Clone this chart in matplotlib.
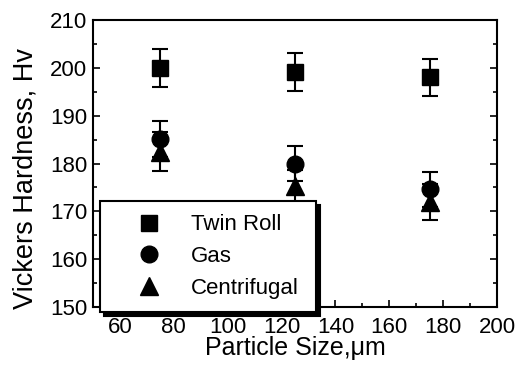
import numpy as np
import matplotlib.pyplot as plt
from matplotlib.ticker import MultipleLocator

plt.rcParams['font.family'] = ['Liberation Sans', 'DejaVu Sans']

## Data
sizes = [75, 125, 175]
twin_roll = [200.0, 199.2, 198.0]
twin_roll_err = [4.0, 4.0, 3.8]
gas = [185.1, 180.0, 174.6]
gas_err = [3.8, 3.7, 3.7]
centrifugal = [182.5, 175.2, 172.0]
centrifugal_err = [4.0, 3.5, 3.8]

fig = plt.figure(figsize=(5.25, 3.65), dpi=100)
ax = fig.add_axes([93/525, 1 - 307/365, 404/525, 287/365])

ax.errorbar(sizes, twin_roll, yerr=twin_roll_err, fmt='s', color='black', ms=11,
            capsize=5.5, elinewidth=1.5, capthick=1.5, label='Twin Roll')
ax.errorbar(sizes, gas, yerr=gas_err, fmt='o', color='black', ms=12,
            capsize=5.5, elinewidth=1.5, capthick=1.5, label='Gas')
ax.errorbar(sizes, centrifugal, yerr=centrifugal_err, fmt='^', color='black', ms=13.5,
            capsize=5.5, elinewidth=1.5, capthick=1.5, label='Centrifugal')

ax.set_xlim(50, 200)
ax.set_ylim(150, 210)
ax.xaxis.set_major_locator(MultipleLocator(20))
ax.xaxis.set_minor_locator(MultipleLocator(10))
ax.yaxis.set_major_locator(MultipleLocator(10))
ax.yaxis.set_minor_locator(MultipleLocator(5))
ax.tick_params(which='both', direction='in', right=True, top=False, labelsize=16, width=1.2)
ax.tick_params(which='major', length=5)
ax.tick_params(which='minor', length=3)
ax.tick_params(axis='x', which='major', pad=7)
ax.tick_params(axis='y', which='major', pad=4)
for s in ax.spines.values():
    s.set_linewidth(1.5)

ax.set_xlabel('Particle Size,\u03bcm', fontsize=18, labelpad=-1)
ax.set_ylabel('Vickers Hardness, Hv', fontsize=19.5)
ax.yaxis.set_label_coords(-0.135, 0.449)

handles, labels = ax.get_legend_handles_labels()
handles = [h[0] for h in handles]
leg = ax.legend(handles, labels, loc='lower left', bbox_to_anchor=(0.017, -0.018, 0.535, 0.39),
                mode='expand', fontsize=16, frameon=True, fancybox=False,
                shadow={'color': 'black', 'alpha': 1, 'ox': 3, 'oy': -3},
                edgecolor='black', borderpad=0.6, labelspacing=0.48, handletextpad=0.3,
                handlelength=3.2, borderaxespad=0)
leg.get_frame().set_linewidth(1.5)
leg.set_clip_on(False)

fig.savefig('out.png', dpi=100)
